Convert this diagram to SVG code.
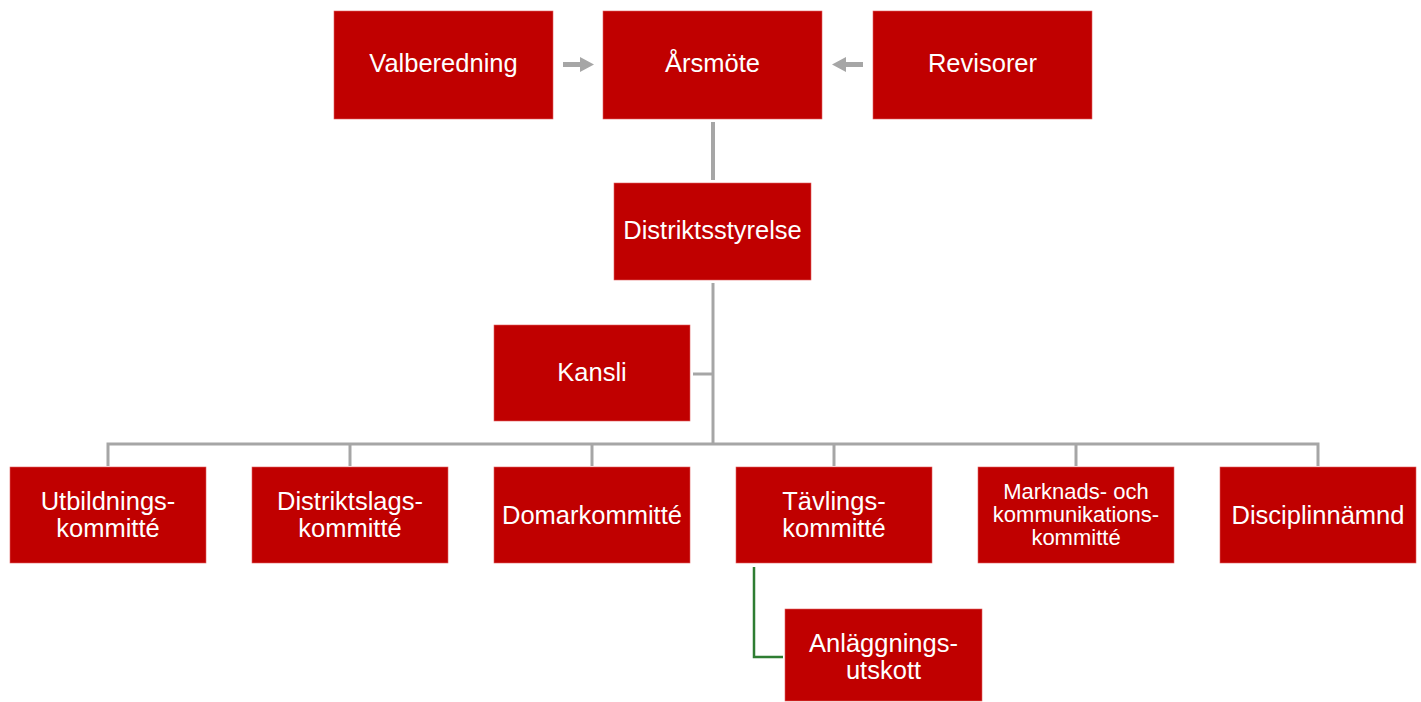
<svg xmlns="http://www.w3.org/2000/svg" width="1421" height="702" viewBox="0 0 1421 702">
<style>
.box{fill:#c00000;stroke:#e06060;stroke-width:0.6}
.t{fill:#fff;font-family:"Liberation Sans",Arial,sans-serif;font-size:25.5px;text-anchor:middle}
.s{font-size:22px}
.c{stroke:#a6a6a6;stroke-width:3;fill:none}
.a{fill:#a6a6a6}
</style>
<rect width="1421" height="702" fill="#fff"/>
<g id="connectors">
<path class="a" d="M563,62 L580,62 L580,57 L594,64.5 L580,72 L580,67 L563,67 Z"/>
<path class="a" d="M863,62 L846,62 L846,57 L832,64.5 L846,72 L846,67 L863,67 Z"/>
<line class="c" x1="713" y1="122" x2="713" y2="180" style="stroke-width:4"/>
<line class="c" x1="713" y1="283" x2="713" y2="444"/>
<line class="c" x1="693" y1="374" x2="713" y2="374"/>
<polyline class="c" points="108,466 108,444 1318,444 1318,466"/>
<line class="c" x1="350" y1="444" x2="350" y2="466"/>
<line class="c" x1="592" y1="444" x2="592" y2="466"/>
<line class="c" x1="834" y1="444" x2="834" y2="466"/>
<line class="c" x1="1076" y1="444" x2="1076" y2="466"/>
<polyline points="754,567 754,657 783,657" fill="none" stroke="#2e7d32" stroke-width="2.5"/>
</g>
<g id="valberedning"><rect class="box" x="334" y="11" width="219" height="108"/><text class="t" x="443.5" y="72">Valberedning</text></g>
<g id="arsmote"><rect class="box" x="603" y="11" width="219" height="108"/><text class="t" x="712.5" y="72">Årsmöte</text></g>
<g id="revisorer"><rect class="box" x="873" y="11" width="219" height="108"/><text class="t" x="982.5" y="72">Revisorer</text></g>
<g id="distriktsstyrelse"><rect class="box" x="614" y="183" width="197" height="97"/><text class="t" x="712.5" y="239">Distriktsstyrelse</text></g>
<g id="kansli"><rect class="box" x="494" y="325" width="196" height="96"/><text class="t" x="592" y="381">Kansli</text></g>
<g id="utbildning"><rect class="box" x="10" y="467" width="196" height="96"/><text class="t" x="108" y="510">Utbildnings-</text><text class="t" x="108" y="537">kommitté</text></g>
<g id="distriktslag"><rect class="box" x="252" y="467" width="196" height="96"/><text class="t" x="350" y="510">Distriktslags-</text><text class="t" x="350" y="537">kommitté</text></g>
<g id="domar"><rect class="box" x="494" y="467" width="196" height="96"/><text class="t" x="592" y="524">Domarkommitté</text></g>
<g id="tavling"><rect class="box" x="736" y="467" width="196" height="96"/><text class="t" x="834" y="510">Tävlings-</text><text class="t" x="834" y="537">kommitté</text></g>
<g id="marknad"><rect class="box" x="978" y="467" width="196" height="96"/><text class="t s" x="1076" y="499">Marknads- och</text><text class="t s" x="1076" y="522">kommunikations-</text><text class="t s" x="1076" y="545">kommitté</text></g>
<g id="disciplin"><rect class="box" x="1220" y="467" width="196" height="96"/><text class="t" x="1318" y="524">Disciplinnämnd</text></g>
<g id="anlaggning"><rect class="box" x="785" y="609" width="197" height="92"/><text class="t" x="883.5" y="652">Anläggnings-</text><text class="t" x="883.5" y="679">utskott</text></g>
</svg>
